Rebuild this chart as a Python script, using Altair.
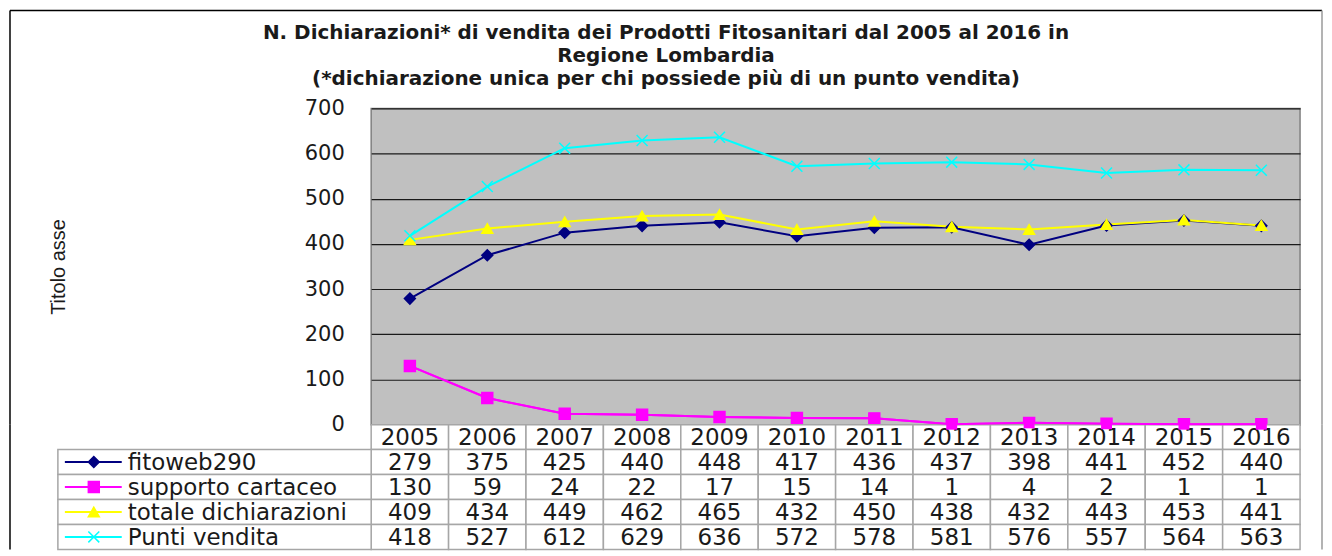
import altair as alt
import pandas as pd

years = ["2005", "2006", "2007", "2008", "2009", "2010", "2011", "2012", "2013", "2014", "2015", "2016"]
series_names = ["fitoweb290", "supporto cartaceo", "totale dichiarazioni", "Punti vendita"]
fitoweb290 = [279, 375, 425, 440, 448, 417, 436, 437, 398, 441, 452, 440]
supporto_cartaceo = [130, 59, 24, 22, 17, 15, 14, 1, 4, 2, 1, 1]
totale_dichiarazioni = [409, 434, 449, 462, 465, 432, 450, 438, 432, 443, 453, 441]
punti_vendita = [418, 527, 612, 629, 636, 572, 578, 581, 576, 557, 564, 563]
series_colors = ["#000080", "#FF00FF", "#FFFF00", "#00FFFF"]
series_shapes = ["diamond", "square", "triangle-up", "M-1,-1L1,1M-1,1L1,-1"]
y_ticks = [0, 100, 200, 300, 400, 500, 600, 700]
title_lines = [
    "N. Dichiarazioni* di vendita dei Prodotti Fitosanitari dal 2005 al 2016 in",
    "Regione Lombardia",
    "(*dichiarazione unica per chi possiede più di un punto vendita)",
]
y_title = "Titolo asse"

all_values = [fitoweb290, supporto_cartaceo, totale_dichiarazioni, punti_vendita]
rows = []
for name, vals in zip(series_names, all_values):
    for yr, v in zip(years, vals):
        rows.append({"series": name, "year": yr, "value": v})
df = pd.DataFrame(rows)

FONT = "Liberation Sans"
NUMFONT = "DejaVu Sans"
TXT = "#1a1a1a"
W, H, TH = 931, 317, 125
LEFT, RIGHT, TOP = -362, 953, -98

color_scale = alt.Scale(domain=series_names, range=series_colors)
shape_scale = alt.Scale(domain=series_names, range=series_shapes)
x_enc = alt.X("year:O", scale=alt.Scale(type="point", padding=0.5), axis=None)
y_enc = alt.Y(
    "value:Q",
    scale=alt.Scale(domain=[0, 700], nice=False, zero=True),
    axis=alt.Axis(
        values=y_ticks, title=y_title, grid=True, gridColor="#1a1a1a", gridWidth=1.2,
        domain=False, ticks=False, labelFont=NUMFONT, labelFontSize=21, labelColor=TXT,
        labelPadding=27, titleFont=FONT, titleFontSize=20, titleFontWeight="normal",
        titleColor=TXT, titlePadding=236,
    ),
)

lines = alt.Chart(df).mark_line(strokeWidth=2).encode(
    x=x_enc, y=y_enc,
    color=alt.Color("series:N", scale=color_scale, legend=None),
    detail="series:N",
)
points = alt.Chart(df).mark_point(filled=True, strokeWidth=1.5, opacity=1).encode(
    x=x_enc, y=alt.Y("value:Q"),
    color=alt.Color("series:N", scale=color_scale, legend=None),
    stroke=alt.Stroke("series:N", scale=color_scale, legend=None),
    shape=alt.Shape("series:N", scale=shape_scale, legend=None),
    size=alt.value(120),
)

one = pd.DataFrame({"k": [0]})
border_left = alt.Chart(one).mark_rule(color="#000000", strokeWidth=1.5).encode(
    x=alt.value(LEFT), y=alt.value(TOP), y2=alt.value(H))
border_top = alt.Chart(one).mark_rule(color="#000000", strokeWidth=1.5).encode(
    x=alt.value(LEFT), x2=alt.value(RIGHT), y=alt.value(TOP))
border_right = alt.Chart(one).mark_rule(color="#9a9a9a", strokeWidth=1.5).encode(
    x=alt.value(RIGHT), y=alt.value(TOP), y2=alt.value(H))

line_chart = alt.layer(border_left, border_top, border_right, lines, points).properties(
    width=W, height=H,
    view=alt.ViewBackground(fill="#C0C0C0", stroke="#808080", strokeWidth=1.5),
)

# ---- data table below the plot ----
row_order = ["year"] + series_names
cells = []
for yr in years:
    cells.append({"row": "year", "year": yr, "label": yr})
for name, vals in zip(series_names, all_values):
    for yr, v in zip(years, vals):
        cells.append({"row": name, "year": yr, "label": str(v)})
cells_df = pd.DataFrame(cells)
legend_df = pd.DataFrame({"row": series_names})

tscale_x = alt.Scale(domain=years, paddingInner=0, paddingOuter=0)
tscale_y = alt.Scale(domain=row_order, paddingInner=0, paddingOuter=0)
tx = alt.X("year:O", scale=tscale_x, axis=None)
tx_c = alt.X("year:O", scale=tscale_x, axis=None, bandPosition=0.5)
ty = alt.Y("row:O", sort=row_order, scale=tscale_y, axis=None)
ty_c = alt.Y("row:O", sort=row_order, scale=tscale_y, axis=None, bandPosition=0.5)

grid_cells = alt.Chart(cells_df).mark_rect(fill="white", stroke="#a6a6a6", strokeWidth=1.5).encode(x=tx, y=ty)
grid_text = alt.Chart(cells_df).mark_text(font=NUMFONT, fontSize=23, color=TXT, baseline="middle", dy=1).encode(
    x=tx_c, y=ty_c, text="label:N")
leg_cells = alt.Chart(legend_df).mark_rect(fill="white", stroke="#a6a6a6", strokeWidth=1.5).encode(
    x=alt.value(-314), x2=alt.value(0), y=ty)
leg_lines = alt.Chart(legend_df).mark_rule(strokeWidth=2).encode(
    x=alt.value(-307), x2=alt.value(-250), y=ty_c,
    color=alt.Color("row:N", scale=color_scale, legend=None))
leg_points = alt.Chart(legend_df).mark_point(filled=True, strokeWidth=1.5, opacity=1).encode(
    x=alt.value(-278), y=ty_c,
    color=alt.Color("row:N", scale=color_scale, legend=None),
    stroke=alt.Stroke("row:N", scale=color_scale, legend=None),
    shape=alt.Shape("row:N", scale=shape_scale, legend=None),
    size=alt.value(120))
leg_text = alt.Chart(legend_df).mark_text(font=NUMFONT, fontSize=23, color=TXT, align="left", baseline="middle", dy=1).encode(
    x=alt.value(-244), y=ty_c, text="row:N")
tb_left = alt.Chart(one).mark_rule(color="#000000", strokeWidth=1.5).encode(
    x=alt.value(LEFT), y=alt.value(0), y2=alt.value(TH))
tb_right = alt.Chart(one).mark_rule(color="#9a9a9a", strokeWidth=1.5).encode(
    x=alt.value(RIGHT), y=alt.value(0), y2=alt.value(TH))

# the "supporto cartaceo" series runs along the plot's floor: redraw it above the table edge
mag_df = df[df["series"] == "supporto cartaceo"]
ov_x = alt.X("year:O", scale=alt.Scale(type="point", padding=0.5, domain=years), axis=None)
ov_y = alt.Y("value:Q", scale=alt.Scale(domain=[0, 700], range=[0, -H], nice=False), axis=None)
ov_line = alt.Chart(mag_df).mark_line(strokeWidth=2, color="#FF00FF").encode(x=ov_x, y=ov_y)
ov_pts = alt.Chart(mag_df).mark_point(filled=True, shape="square", size=120, color="#FF00FF", opacity=1).encode(x=ov_x, y=ov_y)
overlay = alt.layer(ov_line, ov_pts)

table_chart = alt.layer(
    tb_left, tb_right, grid_cells, grid_text, leg_cells, leg_lines, leg_points, leg_text, overlay
).resolve_scale(x="independent", y="independent").properties(
    width=W, height=TH, view=alt.ViewBackground(stroke=None),
)

chart = alt.vconcat(line_chart, table_chart, spacing=0, bounds="flush").properties(
    title=alt.TitleParams(
        text=title_lines, anchor="middle", frame="bounds", offset=-80,
        font=NUMFONT, fontSize=20, fontWeight="bold", color=TXT, lineHeight=23,
    ),
    padding=0,
    background="white",
).resolve_scale(color="independent", shape="independent", stroke="independent")

chart.save("out.html", embed_options={"renderer": "svg", "actions": False})
